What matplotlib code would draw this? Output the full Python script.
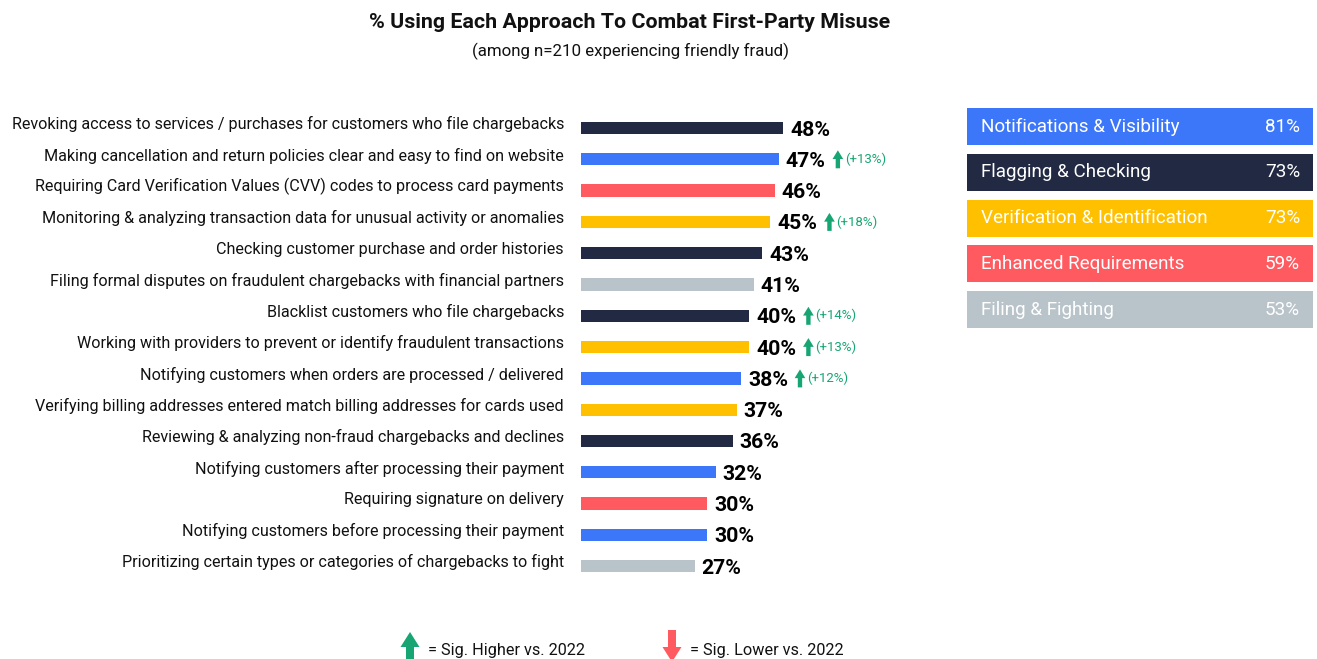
import matplotlib.pyplot as plt
from matplotlib.patches import Rectangle, FancyArrow
from matplotlib.transforms import offset_copy

# --- data ---
categories = [
    'Revoking access to services / purchases for customers who file chargebacks',
    'Making cancellation and return policies clear and easy to find on website',
    'Requiring Card Verification Values (CVV) codes to process card payments',
    'Monitoring & analyzing transaction data for unusual activity or anomalies',
    'Checking customer purchase and order histories',
    'Filing formal disputes on fraudulent chargebacks with financial partners',
    'Blacklist customers who file chargebacks',
    'Working with providers to prevent or identify fraudulent transactions',
    'Notifying customers when orders are processed / delivered',
    'Verifying billing addresses entered match billing addresses for cards used',
    'Reviewing & analyzing non-fraud chargebacks and declines',
    'Notifying customers after processing their payment',
    'Requiring signature on delivery',
    'Notifying customers before processing their payment',
    'Prioritizing certain types or categories of chargebacks to fight',
]
values = [48, 47, 46, 45, 43, 41, 40, 40, 38, 37, 36, 32, 30, 30, 27]
groups = ['flag', 'notif', 'enh', 'verif', 'flag', 'file', 'flag', 'verif',
          'notif', 'verif', 'flag', 'notif', 'enh', 'notif', 'file']
sig_change = [None, 13, None, 18, None, None, 14, 13, 12, None, None, None, None, None, None]

group_keys = ['notif', 'flag', 'verif', 'enh', 'file']
group_names = ['Notifications & Visibility', 'Flagging & Checking',
               'Verification & Identification', 'Enhanced Requirements', 'Filing & Fighting']
group_totals = [81, 73, 73, 59, 53]

colors = {'notif': '#3c77fa', 'flag': '#212943', 'verif': '#ffc000',
          'enh': '#ff5a5f', 'file': '#b8c3ca'}
green = '#17a673'
red = '#ff5a5f'

plt.rcParams['font.family'] = ['Roboto', 'DejaVu Sans']

W, H = 1317, 659
fig = plt.figure(figsize=(W / 100, H / 100), dpi=100)


def fx(x):
    return x / W


def fy(y):
    return 1 - y / H


# main bar axes: x 581 -> 960 px, rows centred 128..566 px
n = len(values)
row_px = 31.3
top = 128 - row_px / 2
bottom = top + n * row_px
ax = fig.add_axes([fx(581), fy(bottom), fx(960 - 581), (bottom - top) / H])
ax.set_xlim(0, (960 - 581) / 4.21)
ax.set_ylim(n - 0.5, -0.5)
ax.axis('off')

ypos = list(range(n))
ax.barh(ypos, values, height=0.39, color=[colors[g] for g in groups])

for i, (v, cat) in enumerate(zip(values, categories)):
    ax.text(-17 / 4.21, i - 0.12, cat, ha='right', va='center', fontsize=11.6, color='#111111')
    ax.annotate(f'{v}%', xy=(v, i), xytext=(7, -2), textcoords='offset pixels',
                ha='left', va='center', fontsize=15.3, fontweight='bold', color='black')

# significance arrows
for i, (v, s) in enumerate(zip(values, sig_change)):
    if s is None:
        continue
    ax.annotate('', xy=(v, i), xycoords=offset_copy(ax.transData, fig=fig, x=59, y=9, units='dots'),
                xytext=(0, -18), textcoords='offset pixels',
                arrowprops=dict(arrowstyle='simple,head_width=1.1,head_length=0.9,tail_width=0.45',
                                mutation_scale=7, color=green, shrinkA=0, shrinkB=0, lw=0))
    ax.annotate(f'(+{s}%)', xy=(v, i), xytext=(66, 0), textcoords='offset pixels',
                ha='left', va='center', fontsize=9.5, color=green)

# titles
fig.text(fx(630), fy(22), '% Using Each Approach To Combat First-Party Misuse',
         ha='center', va='center', fontsize=15.4, fontweight='bold', color='#111111')
fig.text(fx(631), fy(51), '(among n=210 experiencing friendly fraud)',
         ha='center', va='center', fontsize=12.2, color='#111111')

# group summary boxes
for k, (key, name, tot) in enumerate(zip(group_keys, group_names, group_totals)):
    y0 = 108 + k * 45.8
    fig.add_artist(Rectangle((fx(967), fy(y0 + 37)), fx(1313 - 967), 37 / H,
                             transform=fig.transFigure, color=colors[key], lw=0))
    fig.text(fx(981), fy(y0 + 18.5), name, ha='left', va='center',
             fontsize=13.6, color='white')
    fig.text(fx(1300), fy(y0 + 18.5), f'{tot}%', ha='right', va='center',
             fontsize=13.6, color='white')

# footer key
fig.add_artist(FancyArrow(fx(410), fy(670), 0, (670 - 632) / H, width=fx(8),
                          head_width=fx(19), head_length=15 / H, length_includes_head=True,
                          transform=fig.transFigure, color=green, lw=0))
fig.text(fx(428), fy(651), '= Sig. Higher vs. 2022', ha='left', va='center',
         fontsize=11.7, color='#111111')
fig.add_artist(FancyArrow(fx(672), fy(630), 0, -(662 - 630) / H, width=fx(8),
                          head_width=fx(19), head_length=15 / H, length_includes_head=True,
                          transform=fig.transFigure, color=red, lw=0))
fig.text(fx(690), fy(651), '= Sig. Lower vs. 2022', ha='left', va='center',
         fontsize=11.7, color='#111111')

fig.savefig('out.png', dpi=100, facecolor='white')
